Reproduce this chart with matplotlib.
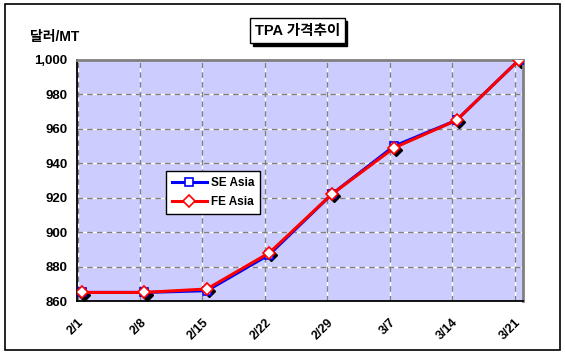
import matplotlib.pyplot as plt
import matplotlib.transforms as mtransforms
from matplotlib.patches import Rectangle

plt.rcParams['font.family'] = ['Liberation Sans', 'Noto Sans CJK KR']

dates = ['2/1', '2/8', '2/15', '2/22', '2/29', '3/7', '3/14', '3/21']
se_asia = [865, 865, 866, 887, 922, 950, 965, 1000]
fe_asia = [865, 865, 867, 888, 922, 949, 965, 1000]
y_ticks = [860, 880, 900, 920, 940, 960, 980, 1000]

fig = plt.figure(figsize=(5.65, 3.55), dpi=100)
# outer frame
fig.patches.append(Rectangle((0.008, 0.014), 0.984, 0.974, transform=fig.transFigure,
                             fill=False, edgecolor='black', linewidth=1.2))

ax = fig.add_axes([0.1363, 0.152, 0.7894, 0.679])
ax.set_facecolor('#CCCCFF')

x = list(range(len(dates)))

# marker shadows
shift = ax.transData + mtransforms.ScaledTranslation(1.5 / 72, -1.5 / 72, fig.dpi_scale_trans)
ax.plot(x, fe_asia, linestyle='none', marker='D', markersize=6, color='black',
        transform=shift, zorder=2.5)

ax.plot(x, se_asia, color='#0000FF', linewidth=2.2, marker='s', markersize=6,
        markerfacecolor='white', markeredgecolor='#0000FF', markeredgewidth=1.2,
        label='SE Asia', zorder=3)
ax.plot(x, fe_asia, color='#FF0000', linewidth=2.2, marker='D', markersize=6,
        markerfacecolor='white', markeredgecolor='#FF0000', markeredgewidth=1.2,
        label='FE Asia', zorder=4)

ax.set_xlim(-0.08, 7.065)
ax.set_ylim(860, 1000)
ax.set_yticks(y_ticks)
ax.set_yticklabels([f'{v:,}' for v in y_ticks], fontsize=9.5, fontweight='bold')
ax.set_xticks([i - 0.07 for i in x])
ax.set_xticklabels(dates, rotation=45, ha='right', va='top', fontsize=9, fontweight='bold',
                   rotation_mode='anchor')
ax.tick_params(axis='both', length=0, pad=7)
ax.tick_params(axis='x', pad=11)

# gridlines: gray dashes with white gaps
for gx in ax.get_xticks():
    ax.axvline(gx, color='white', linewidth=1, zorder=1)
    ax.axvline(gx, color='#808080', linewidth=1, linestyle=(0, (4, 3)), zorder=1.1)
for gy in y_ticks[1:]:
    ax.axhline(gy, color='white', linewidth=1, zorder=1)
    ax.axhline(gy, color='#808080', linewidth=1, linestyle=(0, (4, 3)), zorder=1.1)

for s in ['left', 'bottom']:
    ax.spines[s].set_color('black')
    ax.spines[s].set_linewidth(1.3)
for s in ['top', 'right']:
    ax.spines[s].set_color('#808080')
    ax.spines[s].set_linewidth(2)

leg = ax.legend(loc='upper left', bbox_to_anchor=(0.186, 0.565), frameon=True, fancybox=False,
                edgecolor='black', framealpha=1, prop={'weight': 'bold', 'size': 8.5},
                handlelength=3, borderpad=0.5, labelspacing=0.6, handletextpad=0.3)
leg.get_frame().set_linewidth(1)
leg.set_zorder(5)

fig.text(0.053, 0.895, '달러/MT', fontsize=10, fontweight='bold', va='center', ha='left')

# title box with shadow
bx, by, bw, bh = 0.442, 0.878, 0.168, 0.071
fig.patches.append(Rectangle((bx + 0.005, by - 0.008), bw, bh, transform=fig.transFigure,
                             facecolor='black', edgecolor='black', linewidth=1))
fig.patches.append(Rectangle((bx, by), bw, bh, transform=fig.transFigure,
                             facecolor='white', edgecolor='black', linewidth=1))
fig.text(bx + bw / 2, by + bh / 2, 'TPA 가격추이', fontsize=10.5, fontweight='bold',
         ha='center', va='center')

fig.savefig('out.png', dpi=100)
